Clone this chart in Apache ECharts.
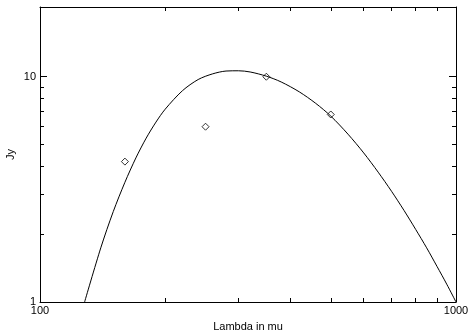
<!DOCTYPE html>
<html>
<head>
<meta charset="utf-8">
<script src="https://cdn.jsdelivr.net/npm/echarts@6/dist/echarts.min.js"></script>
<style>
html, body { margin: 0; padding: 0; background: #fff; }
#main { width: 468px; height: 335px; }
</style>
</head>
<body>
<div id="main"></div>
<script>
// measured flux points (Lambda in mu, Jy)
var obsX = [160, 250, 350, 500];
var obsY = [4.2, 6.0, 10.0, 6.8];

// fitted curve
var fitX = [128, 140, 150, 160, 170, 180, 190, 200, 220, 240, 260, 280, 300, 320, 350, 380, 420, 460, 500, 550, 600, 650, 700, 750, 800, 850, 900, 950, 1000];
var fitY = [1.0, 1.74, 2.52, 3.4, 4.36, 5.34, 6.29, 7.18, 8.67, 9.72, 10.3, 10.6, 10.63, 10.5, 10.06, 9.48, 8.57, 7.62, 6.69, 5.56, 4.59, 3.77, 3.1, 2.55, 2.1, 1.74, 1.44, 1.2, 1.0];

// minor tick values
var xMinor = [200, 300, 400, 500, 600, 700, 800, 900];
var yMinor = [2, 3, 4, 5, 6, 7, 8, 9];

var xRange = [100, 1000];
var yRange = [1, 20.4];

var font = 'Liberation Sans';
var ink = '#000';

function pair(xs, ys) {
    var out = [];
    for (var i = 0; i < xs.length; i++) out.push([xs[i], ys[i]]);
    return out;
}

function baseAxis(grid, pos, range) {
    return {
        type: 'log',
        logBase: 10,
        gridIndex: grid,
        position: pos,
        min: range[0],
        max: range[1],
        splitLine: {show: false},
        axisLine: {show: grid === 0, onZero: false, lineStyle: {color: ink, width: 1}},
        axisTick: {show: true, inside: true, length: 7, lineStyle: {color: ink, width: 1}},
        axisLabel: {show: false}
    };
}

function minorAxis(pos, range, vals) {
    var a = baseAxis(1, pos, range);
    a.axisTick = {show: true, inside: true, length: 4, customValues: vals, lineStyle: {color: ink, width: 1}};
    return a;
}

var xBottom = baseAxis(0, 'bottom', xRange);
xBottom.axisLabel = {
    show: true, margin: 3, color: ink, fontFamily: font, fontSize: 11,
    customValues: [100, 1000],
    formatter: function (v) { return String(Math.round(v)); }
};
xBottom.name = 'Lambda in mu';
xBottom.nameLocation = 'middle';
xBottom.nameGap = 19;
xBottom.nameMoveOverlap = false;
xBottom.nameTextStyle = {color: ink, fontFamily: font, fontSize: 11};

var yLeft = baseAxis(0, 'left', yRange);
yLeft.axisLabel = {
    show: true, margin: 4, color: ink, fontFamily: font, fontSize: 11,
    customValues: [1, 10],
    formatter: function (v) { return String(Math.round(v)); }
};
yLeft.name = 'Jy';
yLeft.nameLocation = 'middle';
yLeft.nameGap = 24;
yLeft.nameRotate = 90;
yLeft.nameMoveOverlap = false;
yLeft.nameTextStyle = {color: ink, fontFamily: font, fontSize: 11};

var chart = echarts.init(document.getElementById('main'), null, {renderer: 'canvas'});

var option = {
    animation: false,
    backgroundColor: '#fff',
    grid: [
        {left: 40, right: 12, top: 7, bottom: 33, containLabel: false, outerBoundsMode: 'none'},
        {left: 40, right: 12, top: 7, bottom: 33, containLabel: false, outerBoundsMode: 'none'}
    ],
    xAxis: [
        xBottom,
        baseAxis(0, 'top', xRange),
        minorAxis('bottom', xRange, xMinor),
        minorAxis('top', xRange, xMinor)
    ],
    yAxis: [
        yLeft,
        baseAxis(0, 'right', yRange),
        minorAxis('left', yRange, yMinor),
        minorAxis('right', yRange, yMinor)
    ],
    series: [
        {
            type: 'line',
            xAxisIndex: 0,
            yAxisIndex: 0,
            data: pair(fitX, fitY),
            smooth: 0.3,
            showSymbol: false,
            lineStyle: {color: ink, width: 1}
        },
        {
            type: 'scatter',
            xAxisIndex: 0,
            yAxisIndex: 0,
            data: pair(obsX, obsY),
            symbol: 'diamond',
            symbolSize: [7, 7],
            itemStyle: {color: '#fff', borderColor: ink, borderWidth: 1}
        }
    ]
};

chart.setOption(option);
</script>
</body>
</html>
